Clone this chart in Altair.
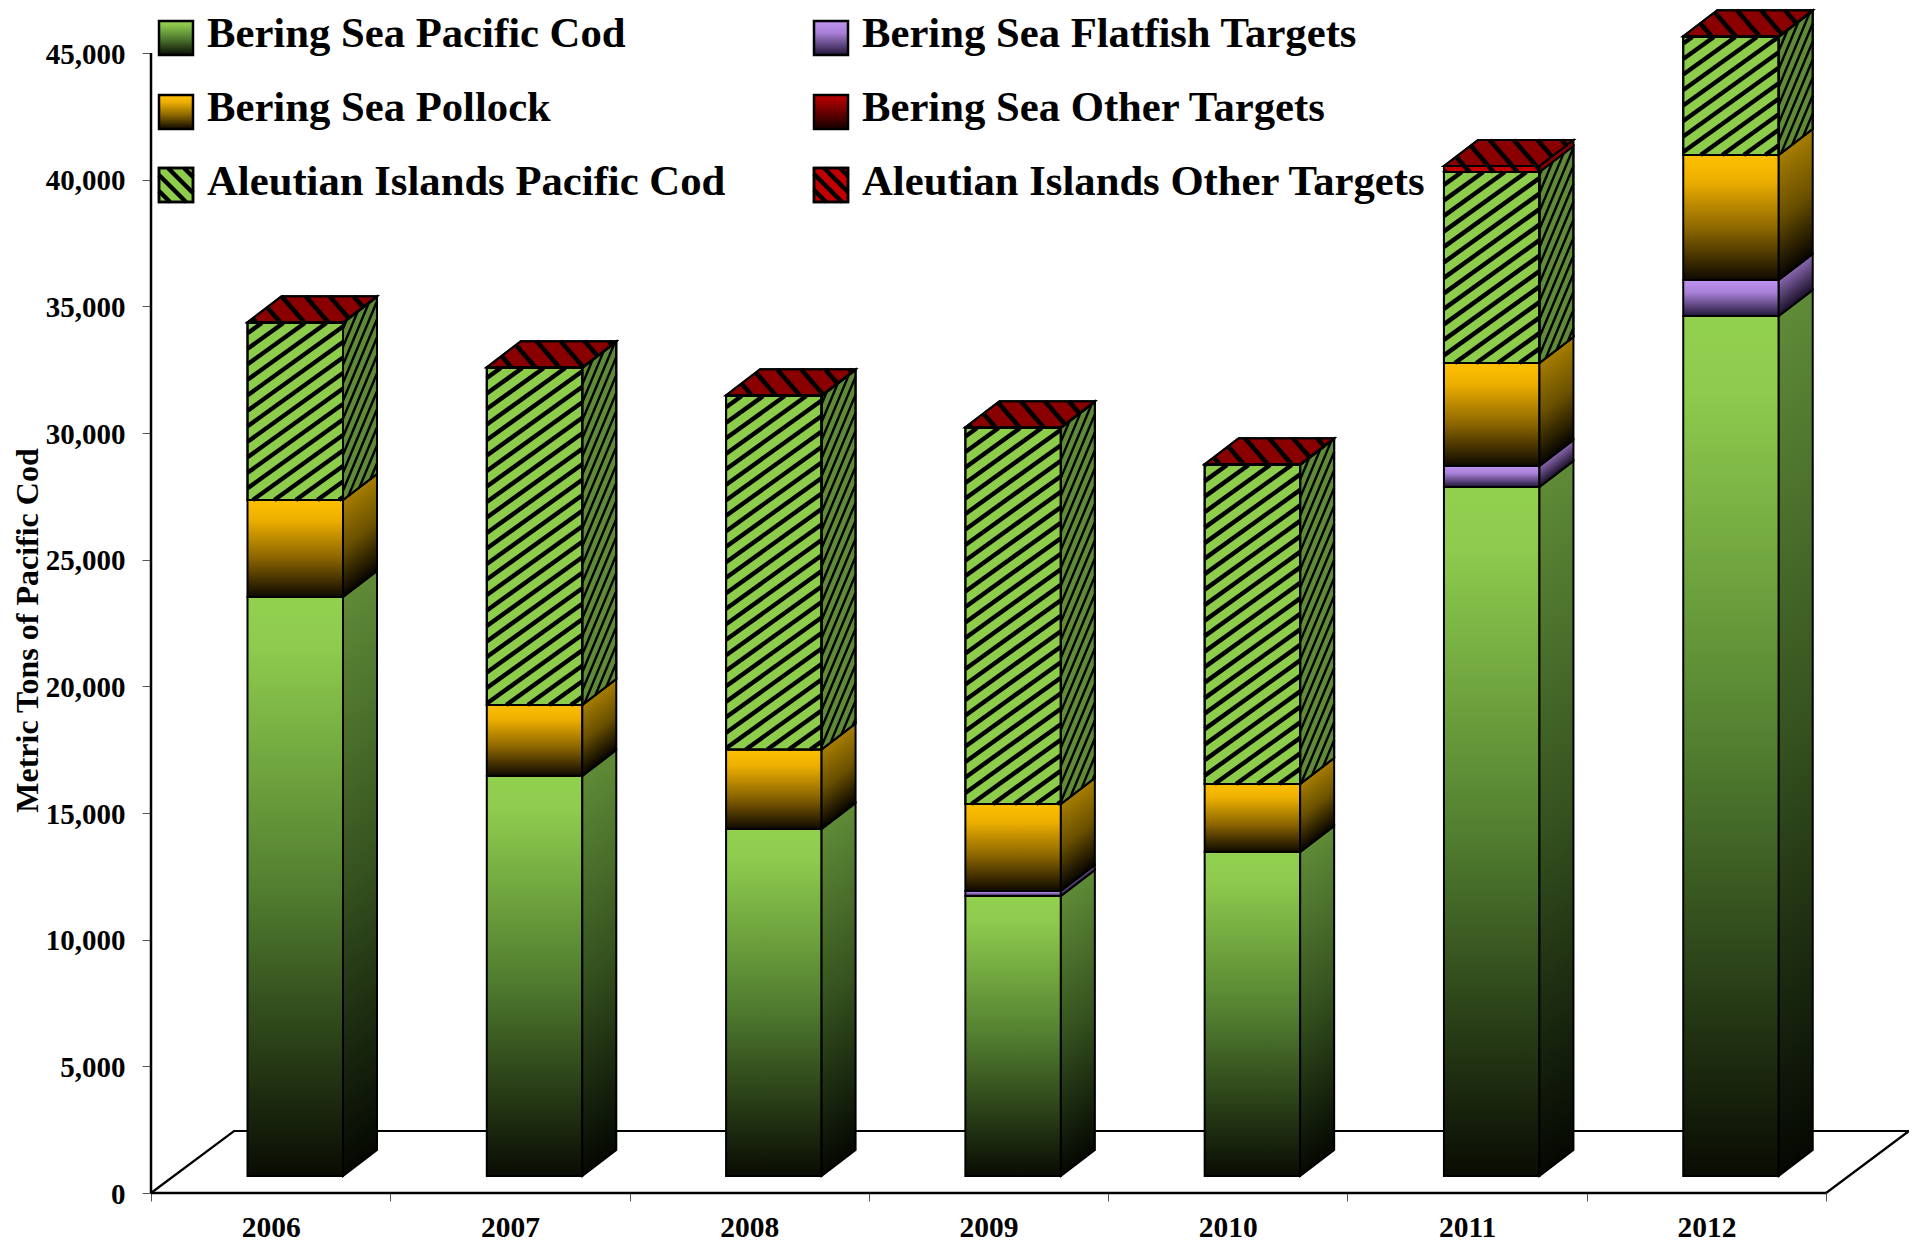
import altair as alt
import pandas as pd

years = ["2006", "2007", "2008", "2009", "2010", "2011", "2012"]
bs_cod = [22855, 15789, 13697, 11053, 12789, 27197, 33947]
bs_flat = [0, 0, 0, 197, 0, 829, 1421]
bs_pollock = [3829, 2803, 3138, 3434, 2684, 4066, 4934]
bs_other = [0, 0, 0, 0, 0, 0, 0]
ai_cod = [6987, 13303, 13954, 14842, 12592, 7539, 4658]
ai_other = [30, 30, 30, 30, 30, 237, 30]
y_ticks = [0, 5000, 10000, 15000, 20000, 25000, 30000, 35000, 40000, 45000]

# layout (page pixels)
AX_L, AX_B, BAND, K = 151.0, 1193.0, 239.29, 1140.0 / 45000
PLOT_W, PLOT_H = 1758, 1185
BAR_OFF, BAR_W, DX, DY, BASE = 96.5, 95.5, 34.0, 26.0, 1176.0
FLOOR_DX, FLOOR_DY = 83.0, 62.0
FONT = "Liberation Serif"


def X(px):
    return (px - AX_L) / BAND


def Y(py):
    return (AX_B - py) / K


xs = alt.Scale(domain=[0, PLOT_W / BAND], nice=False, zero=False)
ys = alt.Scale(domain=[0, PLOT_H / K], nice=False, zero=False)

XAX = alt.Axis(
    values=[v / 2 for v in range(15)], title=None, grid=False, domain=False,
    labelExpr=f"datum.value % 1 ? {years}[floor(datum.value)] : ''",
    tickOpacity=alt.expr("datum.value % 1 ? 0 : 1"),
    tickColor="#555555", tickWidth=1, tickSize=8,
    labelFont=FONT, labelFontSize=29.5, labelFontWeight="bold", labelColor="#000000",
    labelPadding=12, labelOverlap=False, labelFlush=False, labelBound=False,
)
YAX = alt.Axis(
    values=y_ticks, format=",d", grid=False, domain=False,
    tickColor="#555555", tickWidth=1, tickSize=9,
    labelFont=FONT, labelFontSize=29, labelFontWeight="bold", labelColor="#000000",
    labelPadding=17, labelOffset=1, labelOverlap=False, labelFlush=False, labelBound=False,
    title="Metric Tons of Pacific Cod", titleFont=FONT, titleFontSize=32,
    titleFontWeight="bold", titleColor="#000000", titleX=-124, titleY=622,
    titleAngle=270, titleAlign="center", titleBaseline="middle",
)


def grad(stops, a=0.0):
    L = (1 - a) / (1 + a * a)
    return alt.LinearGradient(
        gradient="linear",
        stops=[alt.GradientStop(offset=o, color=c) for o, c in stops],
        x1=0, y1=a, x2=L * a, y2=a + L,
    )


def hatch(poly, m, step):
    """Family of lines y = m x + c, clipped to a convex polygon (page pixels)."""
    cs = [p[1] - m * p[0] for p in poly]
    lo, hi = min(cs), max(cs)
    c = (int(lo // step) + 1) * step
    segs = []
    n = len(poly)
    while c < hi:
        pts = []
        for i in range(n):
            (x1, y1), (x2, y2) = poly[i], poly[(i + 1) % n]
            d1, d2 = y1 - m * x1 - c, y2 - m * x2 - c
            if d1 == d2 or d1 * d2 > 0:
                continue
            t = d1 / (d1 - d2)
            pts.append((x1 + t * (x2 - x1), y1 + t * (y2 - y1)))
        if len(pts) >= 2:
            pts.sort()
            segs.append((pts[0], pts[-1]))
        c += step
    return segs


def hatch_layer(poly, m, step, width, color="#000000"):
    rows = []
    for k, (p, q) in enumerate(hatch(poly, m, step)):
        rows.append(dict(seg=k, x=X(p[0]), y=Y(p[1])))
        rows.append(dict(seg=k, x=X(q[0]), y=Y(q[1])))
    return (
        alt.Chart(pd.DataFrame(rows))
        .mark_line(color=color, strokeWidth=width)
        .encode(
            x=alt.X("x:Q", scale=xs, axis=XAX),
            y=alt.Y("y:Q", scale=ys, axis=YAX),
            detail="seg:N",
        )
    )


def rect_layer(x0, x1, top, bot, fill, stroke="#000000", sw=2):
    df = pd.DataFrame([dict(x=X(x0), x2=X(x1), y=Y(top), y2=Y(bot))])
    kw = dict(stroke=stroke, strokeWidth=sw)
    if fill is None:
        kw["fillOpacity"] = 0
    else:
        kw["fill"] = fill
    return alt.Chart(df).mark_rect(**kw).encode(
        x=alt.X("x:Q", scale=xs, axis=XAX), x2="x2:Q",
        y=alt.Y("y:Q", scale=ys, axis=YAX), y2="y2:Q",
    )


def side_layer(x0, top, bot, fill):
    df = pd.DataFrame([
        dict(x=X(x0), y=Y(top), y2=Y(bot)),
        dict(x=X(x0 + DX), y=Y(top - DY), y2=Y(bot - DY)),
    ])
    kw = dict(stroke="#000000", strokeWidth=2, line=False)
    if fill is None:
        kw["fillOpacity"] = 0
    else:
        kw["fill"] = fill
    return alt.Chart(df).mark_area(**kw).encode(
        x=alt.X("x:Q", scale=xs, axis=XAX),
        y=alt.Y("y:Q", scale=ys, axis=YAX), y2="y2:Q",
    )


def top_layer(x0, x1, top, fill):
    df = pd.DataFrame([
        dict(y=Y(top), x=X(x0), x2=X(x1)),
        dict(y=Y(top - DY), x=X(x0 + DX), x2=X(x1 + DX)),
    ])
    kw = dict(stroke="#000000", strokeWidth=2, orient="horizontal")
    if fill is None:
        kw["fillOpacity"] = 0
    else:
        kw["fill"] = fill
    return alt.Chart(df).mark_area(**kw).encode(
        y=alt.Y("y:Q", scale=ys, axis=YAX),
        x=alt.X("x:Q", scale=xs, axis=XAX), x2="x2:Q",
    )


STYLE = {
    "cod": dict(front=[(0, "#92d050"), (0.08, "#8fcc4e"), (0.5, "#527f30"), (1, "#090c03")],
                side=[(0, "#5f8b37"), (0.5, "#35521f"), (1, "#050802")]),
    "flat": dict(front=[(0, "#bf93f2"), (0.35, "#a880d6"), (1, "#22163a")],
                 side=[(0, "#8a68b0"), (1, "#1a1028")]),
    "pollock": dict(front=[(0, "#ffc000"), (0.2, "#eeb000"), (0.6, "#8a6400"), (1, "#0e0900")],
                    side=[(0, "#a67d00"), (0.5, "#6a5000"), (1, "#060400")]),
    "bs_other": dict(front=[(0, "#c00000"), (1, "#140000")],
                     side=[(0, "#800000"), (1, "#100000")]),
    "ai_cod": dict(solid_front="#8ecd4b", solid_side="#5f8b37"),
    "ai_other": dict(solid_front="#c00000", solid_side="#8a0000"),
}

series = [
    ("cod", bs_cod), ("flat", bs_flat), ("pollock", bs_pollock),
    ("bs_other", bs_other), ("ai_cod", ai_cod), ("ai_other", ai_other),
]

# ---- floor and axis lines
floor_x = [0, X(AX_L + FLOOR_DX), X(AX_L + 7 * BAND + FLOOR_DX), 7]
floor_y = [0, Y(AX_B - FLOOR_DY), Y(AX_B - FLOOR_DY), 0]
floor_df = pd.DataFrame(dict(x=floor_x, y=floor_y, o=[0, 1, 2, 3]))
base = alt.Chart(floor_df).mark_line(color="#000000", strokeWidth=2.2).encode(
    x=alt.X("x:Q", scale=xs, axis=XAX),
    y=alt.Y("y:Q", scale=ys, axis=YAX),
    order="o:O",
)
axis_df = pd.DataFrame([
    dict(s=0, x=0, y=0), dict(s=0, x=0, y=y_ticks[-1]),
    dict(s=1, x=0, y=0), dict(s=1, x=7, y=0),
])
axis_lines = alt.Chart(axis_df).mark_line(color="#000000", strokeWidth=2.5).encode(
    x=alt.X("x:Q", scale=xs, axis=XAX),
    y=alt.Y("y:Q", scale=ys, axis=YAX),
    detail="s:N",
)

layers = [base, axis_lines]

# ---- the bars
for i in range(len(years)):
    x0 = AX_L + BAND * i + BAR_OFF
    x1 = x0 + BAR_W
    cum = 0.0
    for name, vals in series:
        v = vals[i]
        if v <= 0:
            continue
        bot = BASE - cum * K
        cum += v
        top = BASE - cum * K
        h = bot - top
        st = STYLE[name]
        a = DY / (h + DY)
        if "front" in st:
            layers.append(rect_layer(x0, x1, top, bot, grad(st["front"])))
            layers.append(side_layer(x1, top, bot, grad(st["side"], a)))
        else:
            layers.append(rect_layer(x0, x1, top, bot, st["solid_front"]))
            layers.append(side_layer(x1, top, bot, st["solid_side"]))
            if name == "ai_cod":
                fr = [(x0, top), (x1, top), (x1, bot), (x0, bot)]
                sd = [(x1, top), (x1 + DX, top - DY), (x1 + DX, bot - DY), (x1, bot)]
                layers.append(hatch_layer(fr, -0.72, 15.5, 4.4))
                layers.append(hatch_layer(sd, -2.4, 18, 2.4))
                layers.append(rect_layer(x0, x1, top, bot, None))
                layers.append(side_layer(x1, top, bot, None))
            elif h > 3:
                fr = [(x0, top), (x1, top), (x1, bot), (x0, bot)]
                layers.append(hatch_layer(fr, 1.15, 27.6, 4.6))
    ttop = BASE - cum * K
    layers.append(top_layer(x0, x1, ttop, "#8a0000"))
    tp = [(x0, ttop), (x0 + DX, ttop - DY), (x1 + DX, ttop - DY), (x1, ttop)]
    layers.append(hatch_layer(tp, 1.15, 27.6, 4.6))
    layers.append(top_layer(x0, x1, ttop, None))

# ---- legend
legend_rows = [
    ("Bering Sea Pacific Cod", 159, 21, 47, "cod"),
    ("Bering Sea Pollock", 159, 95, 121, "pollock"),
    ("Aleutian Islands Pacific Cod", 159, 168, 195, "ai_cod"),
    ("Bering Sea Flatfish Targets", 814, 21, 47, "flat"),
    ("Bering Sea Other Targets", 814, 95, 121, "bs_other"),
    ("Aleutian Islands Other Targets", 814, 168, 195, "ai_other"),
]
SW = 34
for label, lx, ly, by, key in legend_rows:
    st = STYLE[key]
    fill = grad(st["front"]) if "front" in st else st["solid_front"]
    layers.append(rect_layer(lx, lx + SW, ly, ly + SW, fill, sw=2.5))
    if "front" not in st:
        sq = [(lx, ly), (lx + SW, ly), (lx + SW, ly + SW), (lx, ly + SW)]
        layers.append(hatch_layer(sq, 1.0, 16, 4.4))
        layers.append(rect_layer(lx, lx + SW, ly, ly + SW, None, sw=2.5))

legend_df = pd.DataFrame([
    dict(x=X(lx + 48), y=Y(by), t=label) for label, lx, ly, by, key in legend_rows
])
layers.append(
    alt.Chart(legend_df)
    .mark_text(font=FONT, fontSize=42.7, fontWeight="bold", align="left",
               baseline="alphabetic", color="#000000")
    .encode(
        x=alt.X("x:Q", scale=xs, axis=XAX),
        y=alt.Y("y:Q", scale=ys, axis=YAX),
        text="t:N",
    )
)

chart = (
    alt.layer(*layers)
    .properties(
        width=PLOT_W, height=PLOT_H,
        autosize=alt.AutoSizeParams(type="none"),
        padding={"left": 143, "top": 0, "right": 0, "bottom": 50},
        background="white",
    )
    .configure_view(stroke=None)
)
chart.save("out.html", embed_options={"renderer": "svg", "actions": False})
